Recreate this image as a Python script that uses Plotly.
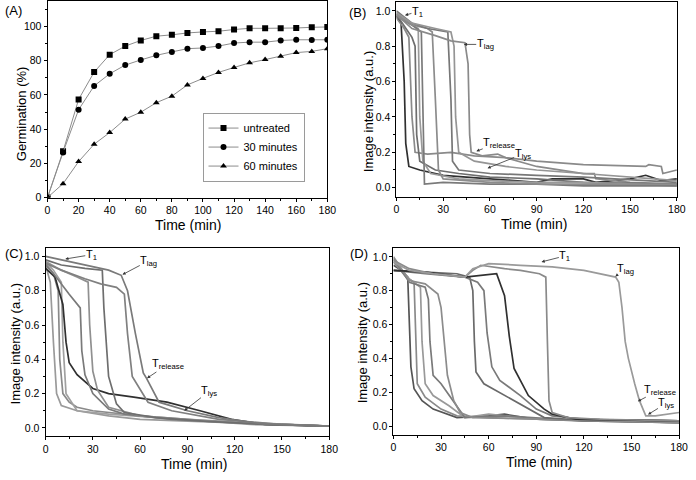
import plotly.graph_objects as go

W, H = 696, 480

# ---------------- Panel A data ----------------
A_TIME = [0, 10, 20, 30, 40, 50, 60, 70, 80, 90, 100, 110, 120, 130, 140, 150, 160, 170, 180]
A_UNTREATED = [0, 27, 57.4, 73.4, 83.6, 88.6, 91.9, 94.4, 95.2, 96.3, 96.9, 97.3, 98.3, 99.0, 99.0, 99.0, 99.2, 99.6, 99.8]
A_30MIN = [0, 26.4, 51.4, 65.3, 72.4, 77.5, 80.5, 83.2, 85.2, 87.1, 87.5, 88.6, 90.4, 90.9, 90.9, 91.9, 92.3, 92.1, 92.3]
A_60MIN = [0, 8.1, 21.0, 31.2, 38.0, 45.9, 49.9, 55.5, 59.3, 65.9, 69.7, 73.2, 76.1, 78.8, 80.7, 82.7, 84.8, 85.5, 87.1]
A_NAMES = ["untreated", "30 minutes", "60 minutes"]

# ---------------- Panel B data (breakpoints) ----------------
B1_T = [0, 3, 5, 6, 8, 15, 30, 60, 90, 100, 120, 128, 150, 160, 170, 180]
B1_V = [0.97, 0.93, 0.6, 0.25, 0.12, 0.10, 0.07, 0.05, 0.03, 0.05, 0.05, 0.03, 0.05, 0.07, 0.04, 0.05]
B2_T = [0, 5, 8, 10, 12, 20, 35, 50, 70, 90, 120, 127, 128, 150, 180]
B2_V = [0.96, 0.90, 0.85, 0.40, 0.20, 0.19, 0.20, 0.18, 0.17, 0.12, 0.08, 0.08, 0.05, 0.03, 0.02]
B3_T = [0, 6, 10, 12, 13, 15, 25, 40, 60, 90, 120, 180]
B3_V = [0.98, 0.90, 0.85, 0.80, 0.30, 0.15, 0.10, 0.08, 0.06, 0.05, 0.03, 0.02]
B4_T = [0, 8, 14, 15, 17, 22, 40, 60, 90, 120, 180]
B4_V = [0.99, 0.93, 0.90, 0.40, 0.15, 0.08, 0.05, 0.04, 0.03, 0.03, 0.01]
B5_T = [0, 10, 16, 17, 18, 30, 60, 90, 120, 180]
B5_V = [0.97, 0.92, 0.88, 0.50, 0.02, 0.03, 0.02, 0.02, 0.01, 0.01]
B6_T = [0, 10, 20, 23, 25, 27, 30, 60, 90, 180]
B6_V = [0.98, 0.92, 0.90, 0.88, 0.50, 0.10, 0.05, 0.03, 0.02, 0.02]
B7_T = [0, 10, 20, 33, 35, 36, 40, 60, 90, 120, 180]
B7_V = [1.0, 0.93, 0.90, 0.88, 0.50, 0.15, 0.10, 0.08, 0.07, 0.06, 0.03]
B8_T = [0, 10, 25, 35, 37, 38, 40, 50, 70, 90, 120, 180]
B8_V = [0.99, 0.93, 0.90, 0.88, 0.80, 0.40, 0.20, 0.15, 0.12, 0.10, 0.08, 0.04]
B9_T = [0, 10, 25, 35, 44, 46, 47, 48, 55, 65, 70, 90, 120, 160, 162, 170, 171, 180]
B9_V = [0.98, 0.90, 0.86, 0.83, 0.82, 0.70, 0.30, 0.20, 0.18, 0.19, 0.17, 0.15, 0.13, 0.12, 0.13, 0.12, 0.08, 0.10]

# ---------------- Panel C data ----------------
C1_T = [0, 3, 5, 7, 10, 20, 40, 60, 90, 120, 150, 180]
C1_V = [0.95, 0.85, 0.50, 0.20, 0.13, 0.10, 0.07, 0.05, 0.04, 0.03, 0.02, 0.01]
C2_T = [0, 5, 8, 9, 11, 15, 20, 30, 60, 90, 120, 180]
C2_V = [0.96, 0.90, 0.80, 0.40, 0.20, 0.15, 0.12, 0.10, 0.07, 0.05, 0.03, 0.01]
C3_T = [0, 5, 10, 11, 13, 20, 40, 70, 100, 130, 180]
C3_V = [0.97, 0.92, 0.85, 0.50, 0.20, 0.10, 0.08, 0.06, 0.04, 0.02, 0.01]
C4_T = [0, 6, 11, 13, 15, 20, 30, 40, 56, 77, 98, 118, 139, 180]
C4_V = [0.93, 0.88, 0.72, 0.50, 0.38, 0.31, 0.23, 0.20, 0.18, 0.15, 0.10, 0.05, 0.02, 0.01]
C5_T = [0, 5, 15, 22, 23, 25, 30, 40, 50, 80, 120, 180]
C5_V = [0.95, 0.90, 0.78, 0.70, 0.45, 0.31, 0.20, 0.11, 0.08, 0.05, 0.03, 0.01]
C6_T = [0, 10, 20, 27, 28, 30, 33, 40, 60, 90, 130, 180]
C6_V = [0.97, 0.92, 0.88, 0.85, 0.60, 0.33, 0.22, 0.12, 0.07, 0.05, 0.03, 0.01]
C7_T = [0, 10, 25, 36, 37, 40, 45, 50, 70, 100, 140, 180]
C7_V = [0.98, 0.95, 0.93, 0.92, 0.70, 0.30, 0.14, 0.09, 0.06, 0.04, 0.02, 0.01]
C8_T = [0, 10, 25, 35, 45, 50, 52, 55, 65, 80, 110, 150, 180]
C8_V = [0.96, 0.92, 0.87, 0.84, 0.82, 0.78, 0.55, 0.30, 0.15, 0.10, 0.05, 0.02, 0.01]
C9_T = [0, 15, 30, 40, 48, 52, 57, 62, 64, 72, 90, 110, 140, 180]
C9_V = [1.0, 0.97, 0.94, 0.92, 0.89, 0.80, 0.55, 0.32, 0.29, 0.15, 0.10, 0.06, 0.02, 0.01]

# ---------------- Panel D data ----------------
D1_T = [0, 5, 9, 10, 11, 13, 18, 25, 40, 60, 70, 90, 120, 180]
D1_V = [0.95, 0.92, 0.88, 0.60, 0.35, 0.22, 0.15, 0.10, 0.05, 0.06, 0.07, 0.04, 0.03, 0.02]
D2_T = [0, 8, 13, 14, 15, 20, 30, 40, 60, 90, 180]
D2_V = [0.97, 0.88, 0.85, 0.50, 0.25, 0.17, 0.10, 0.06, 0.05, 0.04, 0.02]
D3_T = [0, 10, 17, 18, 20, 25, 35, 45, 60, 90, 180]
D3_V = [0.98, 0.87, 0.82, 0.50, 0.25, 0.18, 0.12, 0.05, 0.07, 0.04, 0.03]
D4_T = [0, 10, 20, 22, 23, 25, 30, 40, 45, 70, 120, 180]
D4_V = [0.99, 0.85, 0.82, 0.75, 0.50, 0.30, 0.25, 0.12, 0.05, 0.06, 0.03, 0.02]
D5_T = [0, 10, 20, 28, 30, 32, 34, 38, 42, 50, 90, 180]
D5_V = [1.0, 0.86, 0.84, 0.78, 0.70, 0.50, 0.30, 0.15, 0.08, 0.05, 0.04, 0.02]
D6_T = [0, 20, 40, 48, 50, 51, 52, 57, 70, 85, 95, 110, 180]
D6_V = [0.92, 0.91, 0.90, 0.88, 0.80, 0.50, 0.32, 0.25, 0.18, 0.10, 0.05, 0.04, 0.03]
D7_T = [0, 20, 45, 53, 57, 59, 62, 67, 80, 90, 100, 120, 180]
D7_V = [0.92, 0.90, 0.88, 0.85, 0.80, 0.55, 0.35, 0.27, 0.18, 0.10, 0.06, 0.04, 0.03]
D8_T = [0, 20, 45, 55, 65, 70, 73, 76, 85, 95, 100, 115, 180]
D8_V = [0.92, 0.91, 0.88, 0.89, 0.90, 0.77, 0.53, 0.34, 0.18, 0.10, 0.07, 0.04, 0.03]
D9_T = [0, 10, 25, 45, 50, 55, 70, 80, 92, 96, 97, 98, 100, 110, 130, 180]
D9_V = [0.98, 0.93, 0.90, 0.88, 0.92, 0.95, 0.93, 0.92, 0.90, 0.88, 0.50, 0.15, 0.08, 0.05, 0.04, 0.03]
D10_T = [0, 10, 25, 45, 50, 60, 80, 100, 120, 140, 142, 144, 146, 148, 152, 155, 159, 165, 180]
D10_V = [0.97, 0.92, 0.90, 0.88, 0.93, 0.96, 0.95, 0.94, 0.92, 0.88, 0.85, 0.70, 0.50, 0.40, 0.25, 0.15, 0.06, 0.06, 0.08]

# trace shades (dark for the bold curves)
B_SERIES = [(B1_T, B1_V, "#303030"), (B2_T, B2_V, "#8a8a8a"), (B3_T, B3_V, "#6e6e6e"),
            (B4_T, B4_V, "#9a9a9a"), (B5_T, B5_V, "#7a7a7a"), (B6_T, B6_V, "#8c8c8c"),
            (B7_T, B7_V, "#777777"), (B8_T, B8_V, "#959595"), (B9_T, B9_V, "#8a8a8a")]
C_SERIES = [(C1_T, C1_V, "#9a9a9a"), (C2_T, C2_V, "#8a8a8a"), (C3_T, C3_V, "#a0a0a0"),
            (C4_T, C4_V, "#303030"), (C5_T, C5_V, "#7a7a7a"), (C6_T, C6_V, "#909090"),
            (C7_T, C7_V, "#6e6e6e"), (C8_T, C8_V, "#808080"), (C9_T, C9_V, "#7a7a7a")]
D_SERIES = [(D1_T, D1_V, "#555555"), (D2_T, D2_V, "#8a8a8a"), (D3_T, D3_V, "#999999"),
            (D4_T, D4_V, "#7a7a7a"), (D5_T, D5_V, "#8c8c8c"), (D6_T, D6_V, "#6a6a6a"),
            (D7_T, D7_V, "#7a7a7a"), (D8_T, D8_V, "#303030"), (D9_T, D9_V, "#8a8a8a"),
            (D10_T, D10_V, "#9a9a9a")]

FONT = "Arial, Liberation Sans, sans-serif"

def px_x(p):
    return p / W

def px_y(p):
    return 1 - p / H

fig = go.Figure()

# Panel A
symbols = ["square", "circle", "triangle-up"]
for vals, name, sym in zip([A_UNTREATED, A_30MIN, A_60MIN], A_NAMES, symbols):
    fig.add_trace(go.Scatter(x=A_TIME, y=vals, name=name, mode="lines+markers",
                             line=dict(color="#8c8c8c", width=1),
                             marker=dict(symbol=sym, size=6, color="black"),
                             xaxis="x", yaxis="y"))

for series, xa, ya in [(B_SERIES, "x2", "y2"), (C_SERIES, "x3", "y3"), (D_SERIES, "x4", "y4")]:
    for t, v, c in series:
        fig.add_trace(go.Scatter(x=t, y=v, mode="lines", showlegend=False,
                                 line=dict(color=c, width=1.7),
                                 xaxis=xa, yaxis=ya))

def xaxis(dom, dtick, minor):
    return dict(domain=dom, range=[0, 180], dtick=dtick, tick0=0, showgrid=False, zeroline=False,
                showline=True, linecolor="black", linewidth=1, mirror=True,
                ticks="outside", ticklen=3, tickcolor="black", tickwidth=1,
                minor=dict(dtick=minor, ticks="outside", ticklen=2, tickcolor="black"),
                tickfont=dict(size=10.5, color="black"))

def yaxis(dom, rng, dtick, minor, fmt):
    return dict(domain=dom, range=rng, dtick=dtick, tick0=0, showgrid=False, zeroline=False,
                showline=True, linecolor="black", linewidth=1, mirror=True,
                ticks="outside", ticklen=3, tickcolor="black", tickwidth=1,
                minor=dict(dtick=minor, ticks="outside", ticklen=2, tickcolor="black"),
                tickformat=fmt,
                tickfont=dict(size=10.5, color="black"))

layout = dict(
    width=W, height=H, margin=dict(l=0, r=0, t=0, b=0),
    paper_bgcolor="white", plot_bgcolor="white",
    font=dict(family=FONT, color="black"),
    xaxis=dict(xaxis([px_x(45.3), px_x(330)], 20, 10), anchor="y"),
    yaxis=dict(yaxis([px_y(200), px_y(1)], [0, 115], 20, 10, ""), anchor="x"),
    xaxis2=dict(xaxis([px_x(400.3), px_x(685.7)], 30, 15), anchor="y2"),
    yaxis2=dict(yaxis([px_y(199), px_y(2)], [-0.05, 1.05], 0.2, 0.1, ".1f"), anchor="x2"),
    xaxis3=dict(xaxis([px_x(43.3), px_x(332)], 30, 15), anchor="y3"),
    yaxis3=dict(yaxis([px_y(442), px_y(251)], [-0.05, 1.05], 0.2, 0.1, ".1f"), anchor="x3"),
    xaxis4=dict(xaxis([px_x(397.3), px_x(688)], 30, 15), anchor="y4"),
    yaxis4=dict(yaxis([px_y(440), px_y(251.5)], [-0.05, 1.05], 0.2, 0.1, ".1f"), anchor="x4"),
    legend=dict(x=px_x(203), y=px_y(114), xanchor="left", yanchor="top",
                bordercolor="#9a9a9a", borderwidth=1, bgcolor="white",
                font=dict(size=11, color="black"), tracegroupgap=0, itemwidth=30,
                traceorder="normal"),
)
fig.update_layout(**layout)

annotations = []
for txt, x, y in [("(A)", 0, 11), ("(B)", 350, 13), ("(C)", 0, 257), ("(D)", 351, 257)]:
    annotations.append(dict(text=txt, x=px_x(x), y=px_y(y), xref="paper", yref="paper",
                            xanchor="left", yanchor="middle", showarrow=False,
                            font=dict(size=13, color="black")))

# axis titles (pixel positions of their centres)
for txt, x, y, ang, size in [
        ("Time (min)", 188, 228, 0, 14), ("Germination (%)", 19, 115, -90, 13),
        ("Time (min)", 540, 227, 0, 14), ("Image intensity (a.u.)", 372, 113, -90, 13),
        ("Time (min)", 194, 470, 0, 14), ("Image intensity (a.u.)", 13, 348, -90, 13),
        ("Time (min)", 545, 468, 0, 14), ("Image intensity (a.u.)", 366, 347, -90, 13)]:
    annotations.append(dict(text=txt, x=px_x(x), y=px_y(y), xref="paper", yref="paper",
                            xanchor="center", yanchor="middle", showarrow=False, textangle=ang,
                            font=dict(size=size, color="black")))

# arrow labels: text centre (cx, cy) in data units, arrow head (hx, hy)
def label(axn, sub, cx, cy, hx, hy):
    xr = "x" + ("" if axn == 1 else str(axn))
    yr = "y" + ("" if axn == 1 else str(axn))
    annotations.append(dict(x=hx, y=hy, ax=cx, ay=cy, xref=xr, yref=yr, axref=xr, ayref=yr,
                            text="T<sub>" + sub + "</sub>", showarrow=True, arrowhead=2,
                            arrowsize=0.8, arrowwidth=0.8, arrowcolor="#333333",
                            borderpad=0, font=dict(size=11, color="black")))

label(2, "1", 13.5, 0.995, 5.5, 0.975)
label(2, "lag", 57, 0.81, 43.3, 0.81)
label(2, "release", 66, 0.255, 51.3, 0.206)
label(2, "lys", 81, 0.19, 58.5, 0.11)

label(3, "1", 29, 1.01, 12.5, 0.985)
label(3, "lag", 65.5, 0.975, 48.8, 0.894)
label(3, "release", 77.5, 0.37, 64.4, 0.29)
label(3, "lys", 104, 0.215, 88, 0.1)

label(4, "1", 108, 1.005, 93.3, 0.97)
label(4, "lag", 146, 0.93, 139.8, 0.884)
label(4, "release", 168, 0.215, 154, 0.146)
label(4, "lys", 172, 0.135, 160.4, 0.068)

fig.update_layout(annotations=annotations)
fig.write_html("out.html", config={"displayModeBar": False},
               post_script="document.body.style.margin='0px';")
